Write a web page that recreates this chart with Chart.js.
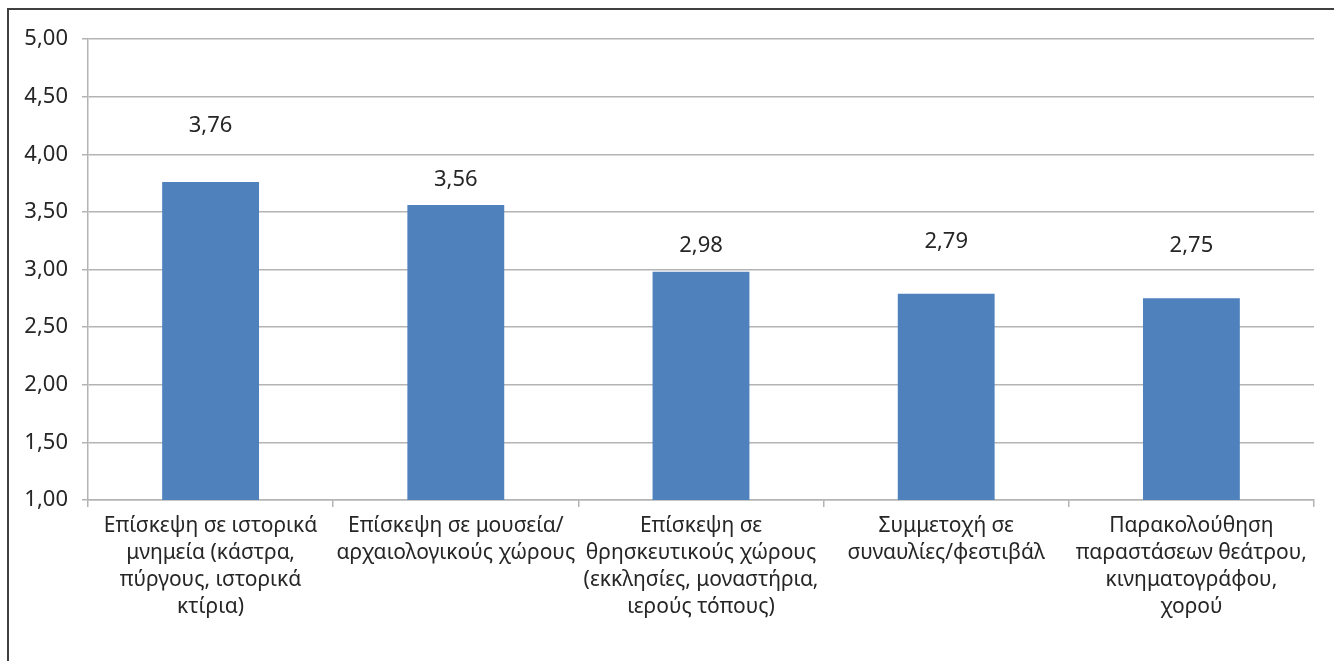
<!DOCTYPE html>
<html>
<head>
<meta charset="utf-8">
<script src="https://cdn.jsdelivr.net/npm/chart.js@4"></script>
<style>
  html, body { margin: 0; padding: 0; background: #fff; }
  #wrap { position: relative; width: 1334px; height: 661px; overflow: hidden; }
  #frame { position: absolute; left: 7px; top: 8px; width: 1400px; height: 700px;
           border: 2px solid #404040; box-sizing: border-box; }
  canvas { position: absolute; left: 0; top: 0; }
</style>
</head>
<body>
<div id="wrap">
  <div id="frame"></div>
  <canvas id="chart" width="1334" height="661"></canvas>
</div>
<script>
// categories (one array of lines per label)
const categories = [
    ["Επίσκεψη σε ιστορικά", "μνημεία (κάστρα,", "πύργους, ιστορικά", "κτίρια)"],
    ["Επίσκεψη σε μουσεία/", "αρχαιολογικούς χώρους"],
    ["Επίσκεψη σε", "θρησκευτικούς χώρους", "(εκκλησίες, μοναστήρια,", "ιερούς τόπους)"],
    ["Συμμετοχή σε", "συναυλίες/φεστιβάλ"],
    ["Παρακολούθηση", "παραστάσεων θεάτρου,", "κινηματογράφου,", "χορού"]
];

const scores = [3.76, 3.56, 2.98, 2.79, 2.75];

const yMin = 1;
const yMax = 5;
const yStep = 0.5;

const fmt = v => Number(v).toFixed(2).replace(".", ",");
const FONT = "Noto Sans";
const TEXT = "#262626";

// value labels above each bar, raised by a hand-set amount
const valueLabels = {
    id: "valueLabels",
    afterDatasetsDraw(chart, args, opts) {
        const ctx = chart.ctx;
        const meta = chart.getDatasetMeta(0);
        ctx.save();
        ctx.font = opts.size + "px " + FONT;
        ctx.fillStyle = opts.color;
        ctx.textAlign = "center";
        ctx.textBaseline = "middle";
        meta.data.forEach((bar, i) => {
            ctx.fillText(fmt(scores[i]), bar.x, bar.y - opts.lift[i]);
        });
        ctx.restore();
    }
};

new Chart(document.getElementById("chart"), {
    type: "bar",
    data: {
        labels: categories,
        datasets: [{
            data: scores,
            backgroundColor: "#4f81bd",
            borderWidth: 0,
            categoryPercentage: 1,
            barPercentage: 0.395
        }]
    },
    options: {
        responsive: false,
        animation: false,
        layout: { padding: { top: 39, right: 20, left: 0, bottom: 0 } },
        plugins: {
            legend: { display: false },
            tooltip: { enabled: false },
            valueLabels: { size: 22, color: TEXT, lift: [56, 25, 26, 52, 53] }
        },
        scales: {
            y: {
                min: yMin,
                max: yMax,
                ticks: {
                    stepSize: yStep,
                    callback: v => fmt(v),
                    color: TEXT,
                    padding: 14,
                    font: { family: FONT, size: 22 }
                },
                grid: { color: "#b4b4b4", lineWidth: 1.5, tickLength: 6 },
                border: { color: "#b4b4b4", width: 1.5 },
                afterFit: s => { s.width = 88; }
            },
            x: {
                ticks: {
                    color: TEXT,
                    padding: 5,
                    maxRotation: 0,
                    autoSkip: false,
                    font: { family: FONT, size: 21, lineHeight: 1.29 }
                },
                grid: { drawOnChartArea: false, drawTicks: true, tickLength: 7,
                        color: "#b4b4b4", lineWidth: 1.5 },
                border: { color: "#b4b4b4", width: 1.5 },
                afterFit: s => { s.height = 161; }
            }
        }
    },
    plugins: [valueLabels]
});
</script>
</body>
</html>
